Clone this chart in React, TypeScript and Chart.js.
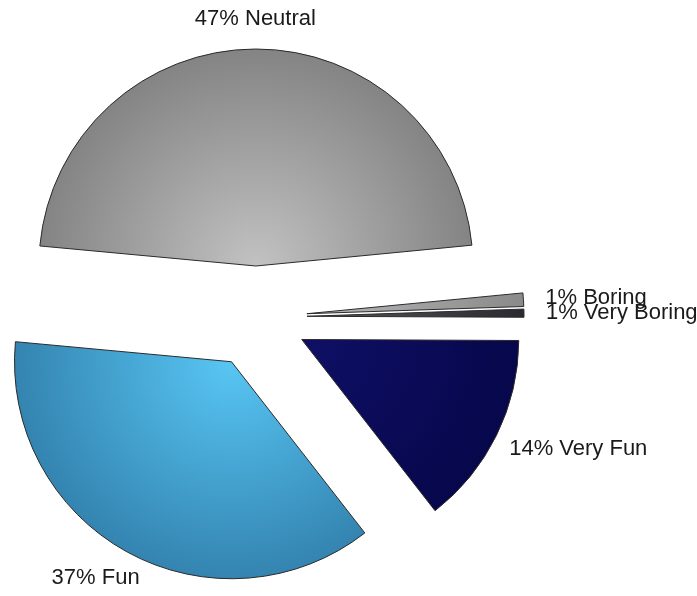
import React, { useEffect, useRef } from 'react';
import { Chart, registerables } from 'chart.js';

Chart.register(...registerables);

const categories = ['Neutral', 'Boring', 'Very Boring', 'Very Fun', 'Fun'];
const values = [47.0, 1.0, 0.6, 14.4, 37.0];
const innerColors = ['#c2c2c2', '#b8b8b8', '#56565e', '#0f0f66', '#58c6f4'];
const outerColors = ['#848484', '#8a8a8a', '#2a2a30', '#07074c', '#3484b0'];

const ROTATION = -84.7;
const RADIUS = 217;
const EXPLODE = 51;
const LABEL_DIST = 290;
const FONT = '22px "Liberation Sans", Arial, sans-serif';

const total = values.reduce((a, b) => a + b, 0);

function midAngle(i: number) {
  let start = -Math.PI / 2 + (ROTATION * Math.PI) / 180;
  for (let k = 0; k < i; k++) start += (values[k] / total) * 2 * Math.PI;
  const end = start + (values[i] / total) * 2 * Math.PI;
  return (start + end) / 2;
}

const explodePlugin = {
  id: 'explode',
  afterDatasetsUpdate(chart: any) {
    const meta = chart.getDatasetMeta(0);
    meta.data.forEach((arc: any) => {
      const m = (arc.startAngle + arc.endAngle) / 2;
      arc.x += Math.cos(m) * EXPLODE;
      arc.y += Math.sin(m) * EXPLODE;
    });
  },
};

const labelPlugin = {
  id: 'sliceLabels',
  afterDatasetsDraw(chart: any) {
    const { ctx, chartArea } = chart;
    const cx = (chartArea.left + chartArea.right) / 2;
    const cy = (chartArea.top + chartArea.bottom) / 2;
    const meta = chart.getDatasetMeta(0);
    ctx.save();
    ctx.font = FONT;
    ctx.fillStyle = '#1a1a1a';
    ctx.textAlign = 'center';
    ctx.textBaseline = 'middle';
    meta.data.forEach((arc: any, i: number) => {
      const m = (arc.startAngle + arc.endAngle) / 2;
      const text = `${Math.round((values[i] / total) * 100)}% ${categories[i]}`;
      const w = ctx.measureText(text).width;
      const h = 16;
      const ax = cx + Math.cos(m) * LABEL_DIST;
      const ay = cy + Math.sin(m) * LABEL_DIST;
      ctx.fillText(text, ax + (Math.cos(m) * w) / 2, ay + (Math.sin(m) * h) / 2);
    });
    ctx.restore();
  },
};

export default function App() {
  const ref = useRef<HTMLCanvasElement>(null);
  useEffect(() => {
    if (!ref.current) return;
    const chart = new Chart(ref.current, {
      type: 'pie',
      data: {
        labels: categories,
        datasets: [
          {
            data: values,
            backgroundColor: (c: any) => {
              const chart = c.chart;
              const area = chart.chartArea;
              const i = c.dataIndex;
              if (!area || i === undefined) return innerColors[i ?? 0];
              const m = midAngle(i);
              const x = (area.left + area.right) / 2 + Math.cos(m) * EXPLODE;
              const y = (area.top + area.bottom) / 2 + Math.sin(m) * EXPLODE;
              const g = chart.ctx.createRadialGradient(x, y, 0, x, y, RADIUS);
              g.addColorStop(0, innerColors[i]);
              g.addColorStop(1, outerColors[i]);
              return g;
            },
            borderColor: '#2a2a2a',
            borderWidth: 1,
          },
        ],
      },
      options: {
        responsive: false,
        animation: false,
        rotation: ROTATION,
        radius: RADIUS,
        layout: { padding: { left: 0, top: 38, right: 185, bottom: 0 } },
        plugins: {
          legend: { display: false },
          tooltip: { enabled: false },
        },
        events: [],
      } as any,
      plugins: [explodePlugin, labelPlugin],
    });
    return () => chart.destroy();
  }, []);
  return (
    <div style={{ position: 'absolute', left: 0, top: 0, width: 697, height: 596, background: '#fff' }}>
      <canvas ref={ref} width={697} height={596} />
    </div>
  );
}
